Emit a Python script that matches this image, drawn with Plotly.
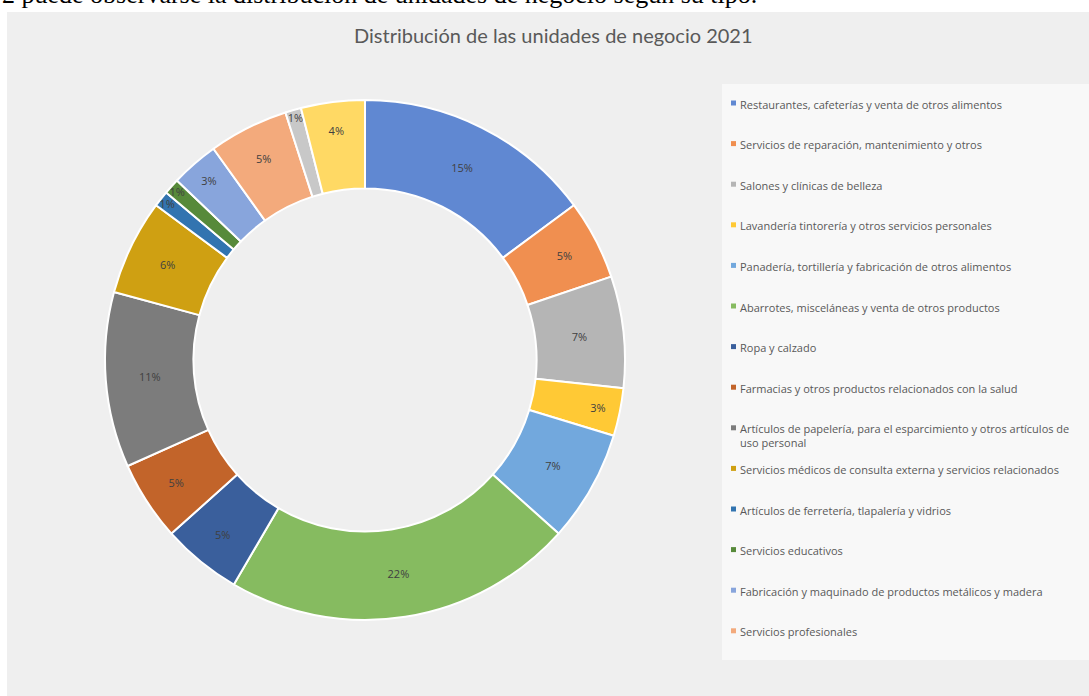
import plotly.graph_objects as go

W, H = 1089, 696

title = "Distribución de las unidades de negocio 2021"
doc_text = "2 puede observarse la distribución de unidades de negocio según su tipo."

legend_labels = [
    "Restaurantes, cafeterías y venta de otros alimentos",
    "Servicios de reparación, mantenimiento y otros",
    "Salones y clínicas de belleza",
    "Lavandería tintorería y otros servicios personales",
    "Panadería, tortillería y fabricación de otros alimentos",
    "Abarrotes, misceláneas y venta de otros productos",
    "Ropa y calzado",
    "Farmacias y otros productos relacionados con la salud",
    "Artículos de papelería, para el esparcimiento y otros artículos de<br>uso personal",
    "Servicios médicos de consulta externa y servicios relacionados",
    "Artículos de ferretería, tlapalería y vidrios",
    "Servicios educativos",
    "Fabricación y maquinado de productos metálicos y madera",
    "Servicios profesionales",
]
# two further slices are drawn but not listed in the (truncated) legend
slice_labels = [l.replace("<br>", " ") for l in legend_labels] + ["Otros (15)", "Otros (16)"]
values = [15, 5, 7, 3, 7, 22, 5, 5, 11, 6, 1, 1, 3, 5, 1, 4]
colors = ["#6088d2", "#f08f50", "#b5b5b5", "#ffc935", "#72a8dd", "#86bb60",
          "#3a5f9c", "#c2642a", "#7c7c7c", "#cfa012", "#3274b0", "#578a3a",
          "#88a5dc", "#f3aa7c", "#c8c8c8", "#ffd964"]

fig = go.Figure()

cx, cy, r = 365, 360, 260
fig.add_trace(go.Pie(
    labels=slice_labels,
    values=values,
    hole=0.66,
    sort=False,
    direction="clockwise",
    rotation=0,
    marker=dict(colors=colors, line=dict(color="white", width=2)),
    texttemplate="%{value}%",
    textposition="inside",
    insidetextorientation="horizontal",
    textfont=dict(family="Open Sans", size=11, color="#404040"),
    showlegend=False,
    domain=dict(x=[(cx - r) / W, (cx + r) / W], y=[1 - (cy + r) / H, 1 - (cy - r) / H]),
))

shapes = [
    # chart area background
    dict(type="rect", xref="paper", yref="paper", x0=7 / W, x1=1, y0=0, y1=1 - 12 / H,
         fillcolor="#efefef", line=dict(width=0), layer="below"),
    # legend box
    dict(type="rect", xref="paper", yref="paper", x0=722 / W, x1=1, y0=1 - 660 / H, y1=1 - 84 / H,
         fillcolor="#f8f8f8", line=dict(width=0), layer="below"),
]
annotations = [
    dict(text=title, x=553 / W, y=1 - 35 / H, xref="paper", yref="paper", showarrow=False,
         xanchor="center", yanchor="middle",
         font=dict(family="Lato", size=20, color="#595959")),
    dict(text=doc_text, x=0, y=1 - 11 / H, xref="paper", yref="paper", showarrow=False,
         xanchor="left", yanchor="bottom",
         font=dict(family="Liberation Serif", size=26, color="#000000")),
]

y0, step = 103, 40.6
for i, lab in enumerate(legend_labels):
    yy = y0 + i * step
    shapes.append(dict(type="rect", xref="paper", yref="paper",
                       x0=731 / W, x1=736 / W, y0=1 - (yy + 2.5) / H, y1=1 - (yy - 2.5) / H,
                       fillcolor=colors[i], line=dict(width=0)))
    annotations.append(dict(text=lab, x=738 / W, y=1 - (yy - 8.5) / H, xref="paper", yref="paper",
                            showarrow=False, xanchor="left", yanchor="top", align="left",
                            font=dict(family="Open Sans", size=11, color="#595959")))

fig.update_layout(
    width=W, height=H,
    margin=dict(l=0, r=0, t=0, b=0),
    paper_bgcolor="white",
    plot_bgcolor="white",
    shapes=shapes,
    annotations=annotations,
    uniformtext=dict(minsize=11, mode="show"),
)

fig.write_html("out.html", config={"displayModeBar": False},
               post_script="document.body.style.margin='0px';document.body.style.overflow='hidden';")
